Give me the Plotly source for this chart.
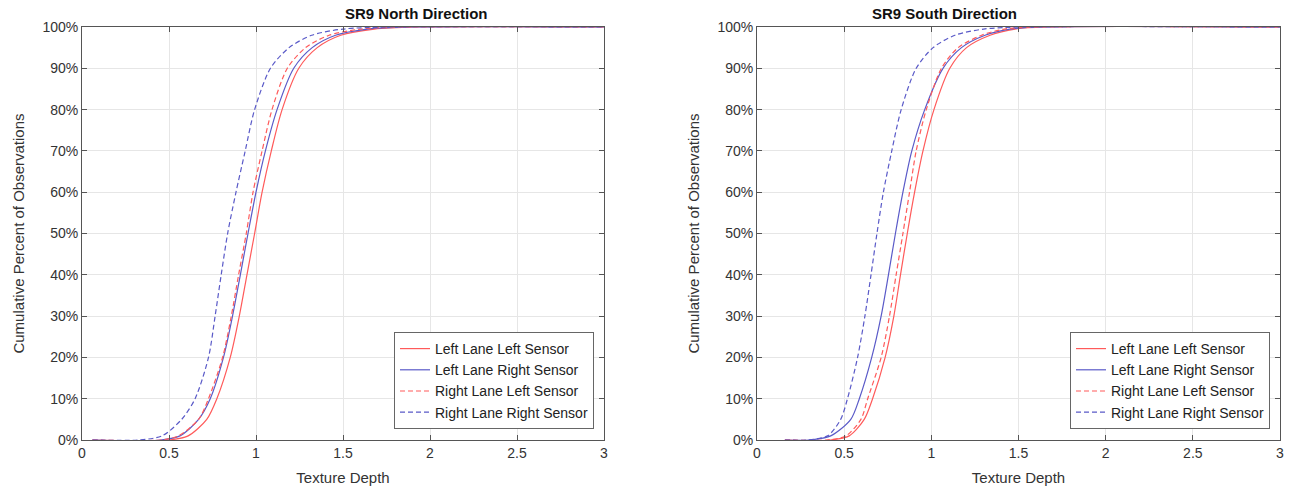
import plotly.graph_objects as go

# ---- data: Texture Depth read at each cumulative level ----
series_names = ["Left Lane Left Sensor", "Left Lane Right Sensor",
                "Right Lane Left Sensor", "Right Lane Right Sensor"]
cdf_levels = [0, 0, 0.01, 0.05, 0.10, 0.20, 0.30, 0.40, 0.50, 0.60, 0.70, 0.80, 0.90,
              0.95, 0.98, 0.995, 1.0, 1.0]

north_llls = [0.06, 0.50, 0.61, 0.717, 0.775, 0.852, 0.904, 0.948, 0.992, 1.035, 1.088, 1.15, 1.246,
              1.352, 1.487, 1.68, 1.92, 3.0]
north_llrs = [0.06, 0.45, 0.563, 0.67, 0.737, 0.813, 0.865, 0.91, 0.954, 1.0, 1.054, 1.121, 1.217,
              1.323, 1.457, 1.64, 1.88, 3.0]
north_rlls = [0.06, 0.45, 0.554, 0.67, 0.727, 0.808, 0.858, 0.90, 0.944, 0.983, 1.035, 1.092, 1.18,
              1.285, 1.42, 1.60, 1.84, 3.0]
north_rlrs = [0.06, 0.32, 0.46, 0.573, 0.65, 0.727, 0.765, 0.80, 0.837, 0.885, 0.938, 0.992, 1.083,
              1.19, 1.32, 1.50, 1.78, 3.0]

south_llls = [0.16, 0.42, 0.529, 0.615, 0.663, 0.735, 0.785, 0.823, 0.862, 0.904, 0.952, 1.015, 1.106,
              1.202, 1.337, 1.48, 1.66, 3.0]
south_llrs = [0.16, 0.30, 0.423, 0.538, 0.587, 0.658, 0.712, 0.754, 0.794, 0.837, 0.888, 0.962, 1.067,
              1.173, 1.308, 1.45, 1.64, 3.0]
south_rlls = [0.16, 0.40, 0.51, 0.596, 0.635, 0.712, 0.76, 0.798, 0.837, 0.875, 0.913, 0.971, 1.058,
              1.154, 1.288, 1.42, 1.60, 3.0]
south_rlrs = [0.16, 0.28, 0.405, 0.48, 0.519, 0.577, 0.619, 0.654, 0.688, 0.725, 0.773, 0.827, 0.913,
              1.01, 1.135, 1.30, 1.52, 3.0]

x_ticks = [0, 0.5, 1, 1.5, 2, 2.5, 3]
x_tick_labels = ["0", "0.5", "1", "1.5", "2", "2.5", "3"]
y_ticks = [i / 10 for i in range(11)]
y_tick_labels = [f"{i*10}%" for i in range(11)]

RED = "#ff5a5a"
BLUE = "#5a5ac8"
styles = [(RED, "solid"), (BLUE, "solid"), (RED, "5px,3px"), (BLUE, "5px,3px")]

W, H = 1294, 493
FONT = "Liberation Sans, Arial, sans-serif"
TXT = "#333333"

fig = go.Figure()

panels = [
    ("x", "y", "legend", [north_llls, north_llrs, north_rlls, north_rlrs]),
    ("x2", "y2", "legend2", [south_llls, south_llrs, south_rlls, south_rlrs]),
]
for xa, ya, lg, data in panels:
    for name, xs, (col, dash) in zip(series_names, data, styles):
        fig.add_trace(go.Scatter(
            x=xs, y=cdf_levels, mode="lines", name=name,
            line=dict(color=col, width=1.2, dash=dash, shape="spline", smoothing=0.8),
            xaxis=xa, yaxis=ya, legend=lg,
        ))

def xaxis(domain, anchor):
    return dict(domain=domain, anchor=anchor, range=[0, 3], tickvals=x_ticks, ticktext=x_tick_labels,
                automargin=False,
                showgrid=True, gridcolor="#e6e6e6", gridwidth=1, zeroline=False,
                showline=True, linecolor="#555555", linewidth=1, mirror="ticks",
                ticks="inside", ticklen=5, tickcolor="#555555",
                tickfont=dict(family=FONT, size=14, color=TXT),
                title=dict(text="Texture Depth", font=dict(family=FONT, size=15, color=TXT), standoff=12))

def yaxis(domain, anchor):
    return dict(domain=domain, anchor=anchor, range=[0, 1], tickvals=y_ticks, ticktext=y_tick_labels,
                automargin=False,
                showgrid=True, gridcolor="#e6e6e6", gridwidth=1, zeroline=False,
                showline=True, linecolor="#555555", linewidth=1, mirror="ticks",
                ticks="inside", ticklen=5, tickcolor="#555555",
                tickfont=dict(family=FONT, size=14, color=TXT),
                title=dict(text="Cumulative Percent of Observations",
                           font=dict(family=FONT, size=15, color=TXT), standoff=14))

ytop = 1 - 27 / H
ybot = 1 - 440 / H
legend_common = dict(bgcolor="white", bordercolor="#666666", borderwidth=1,
                     font=dict(family=FONT, size=14, color="#222222"),
                     yanchor="bottom", xanchor="right", tracegroupgap=0)

fig.update_layout(
    width=W, height=H, margin=dict(l=0, r=0, t=0, b=0, autoexpand=False),
    paper_bgcolor="white", plot_bgcolor="white",
    xaxis=xaxis([82 / W, 604 / W], "y"),
    yaxis=yaxis([ybot, ytop], "x"),
    xaxis2=xaxis([757 / W, 1280 / W], "y2"),
    yaxis2=yaxis([ybot, ytop], "x2"),
    legend=dict(x=594 / W, y=1 - 429 / H, **legend_common),
    legend2=dict(x=1270 / W, y=1 - 429 / H, **legend_common),
    annotations=[
        dict(text="<b>SR9 North Direction</b>", x=(82 + 604) / 2 / W, y=1 - 14 / H,
             xref="paper", yref="paper", showarrow=False, yanchor="middle",
             font=dict(family=FONT, size=15, color="#111111")),
        dict(text="<b>SR9 South Direction</b>", x=(757 + 1280) / 2 / W, y=1 - 14 / H,
             xref="paper", yref="paper", showarrow=False, yanchor="middle",
             font=dict(family=FONT, size=15, color="#111111")),
    ],
)

fig.write_html("out.html")
